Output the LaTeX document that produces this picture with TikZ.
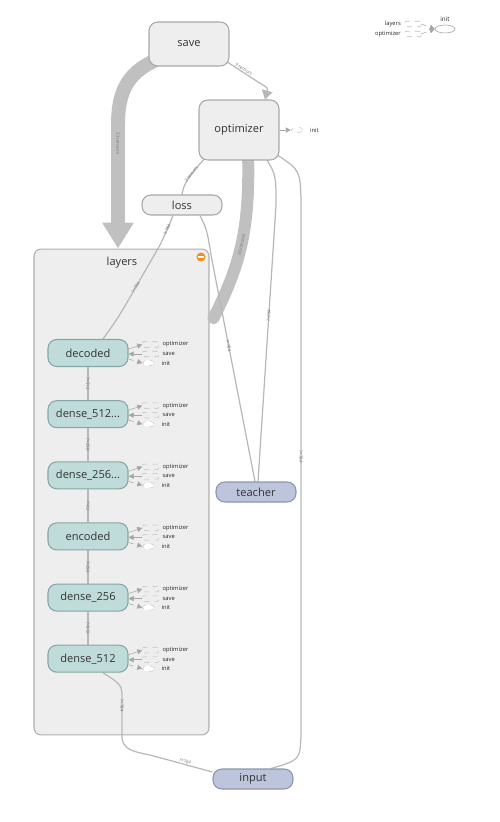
\documentclass[tikz,border=0pt]{standalone}
\usepackage{fontspec}
\setmainfont{Open Sans}
\usetikzlibrary{arrows.meta, positioning, calc, shapes.geometric, backgrounds}
\definecolor{opfill}{HTML}{EEEEEE}
\definecolor{opline}{HTML}{A8A8A8}
\definecolor{layerfill}{HTML}{C0DCDA}
\definecolor{layerline}{HTML}{85A6A4}
\definecolor{iofill}{HTML}{BCC5DC}
\definecolor{ioline}{HTML}{8D95AC}
\definecolor{clusline}{HTML}{B0B0B0}
\definecolor{edgecol}{HTML}{B8B8B8}
\definecolor{thickcol}{HTML}{C0C0C0}
\definecolor{badge}{HTML}{F28C1E}
\definecolor{txt}{HTML}{333333}
\tikzset{
  tbop/.style      = {rounded corners=5pt, draw=opline, fill=opfill, line width=0.6pt,
                      minimum width=16mm, minimum height=4mm, inner sep=1pt, text=txt,
                      font=\fontsize{6.3}{7}\selectfont},
  tblayer/.style   = {tbop, fill=layerfill, draw=layerline, minimum height=5.4mm},
  tbio/.style      = {tbop, fill=iofill, draw=ioline},
  tbcluster/.style = {rounded corners=4pt, draw=clusline, fill=opfill, line width=0.6pt},
  tbtitle/.style   = {font=\fontsize{6.3}{7}\selectfont, text=txt, inner sep=1pt},
  tbedge/.style    = {draw=edgecol, line width=0.7pt},
  tbthick/.style   = {draw=thickcol, line cap=round},
  tblbl/.style     = {font=\fontsize{2.5}{3}\selectfont, text=black!55, inner sep=0.5pt, sloped},
  tbside/.style    = {font=\fontsize{3.3}{4}\selectfont, text=black!85, inner sep=0.3pt},
  tbstub/.style    = {draw=black!25, dashed, line width=0.3pt, minimum width=3.2mm,
                      minimum height=1.1mm, inner sep=0pt, rounded corners=0.5pt},
  tbinit/.style    = {ellipse, draw=black!20, dashed, fill=white, line width=0.3pt,
                      minimum width=2.4mm, minimum height=1.1mm, inner sep=0pt},
  tbaux/.style     = {draw=black!35, line width=0.3pt, -{Triangle[length=1mm, width=1mm]}},
}
\begin{document}
\begin{tikzpicture}[x=0.02cm, y=-0.02cm]
  \useasboundingbox (0,0) rectangle (500,822);

  % cluster
  \begin{pgfonlayer}{background}
    \node[tbcluster, minimum width=35mm, minimum height=97.2mm] (layers) at (121.5,492) {};
  \end{pgfonlayer}
  \node[tbtitle] (layerstitle) at (122,263) {layers};
  \node[circle, fill=badge, minimum size=1.8mm, inner sep=0pt] (badge) at (201,257) {};
  \draw[white, line width=0.7pt] ($(badge.west)+(2,0)$) -- ($(badge.east)+(-2,0)$);

  % ops
  \node[tbop, minimum height=8.8mm] (save) at (189,44) {save};
  \node[tbop, minimum height=12mm] (optimizer) at (239,130) {optimizer};
  \node[tbop] (loss) at (182,205) {loss};
  \node[tbio] (teacher) at (256,492) {teacher};
  \node[tbio] (input) at (253,779) {input};

  % layer nodes
  \node[tblayer] (decoded) at (88,353) {decoded};
  \node[tblayer, below=6.62mm of decoded] (d512b) {dense\_512...};
  \node[tblayer, below=6.62mm of d512b] (d256b) {dense\_256...};
  \node[tblayer, below=6.62mm of d256b] (encoded) {encoded};
  \node[tblayer, below=6.62mm of encoded] (d256) {dense\_256};
  \node[tblayer, below=6.62mm of d256] (d512) {dense\_512};

  \foreach \n in {decoded, d512b, d256b, encoded, d256, d512} {
    \node[tbstub] (\n-opt) at ($(\n.east)+(22,-8.5)$) {};
    \node[tbstub] (\n-sav) at ($(\n.east)+(22,1)$) {};
    \node[tbinit] (\n-ini) at ($(\n.east)+(20,10)$) {};
    \node[tbside, right=0.6mm of \n-opt] (\n-optl) {optimizer};
    \node[tbside, right=0.6mm of \n-sav] (\n-savl) {save};
    \node[tbside, right=1.2mm of \n-ini] (\n-inil) {init};
    \draw[tbaux] ($(\n.east)+(0,-4)$) -- (\n-opt.west);
    \draw[tbaux] (\n-sav.west) -- ($(\n.east)+(0,1)$);
    \draw[tbaux, dashed] ($(\n.east)+(0,6)$) -- (\n-ini.west);
  }

  % optimizer init
  \node[tbinit] (optinit) at (297,130) {};
  \node[tbside, right=1.2mm of optinit] (optinitl) {init};
  \draw[tbaux, dashed] (optimizer.east) -- (optinit.west);

  % legend
  \node[tbinit, solid, draw=black!40, minimum width=4mm, minimum height=1.6mm] (lginit) at (445,29) {};
  \node[tbside, font=\fontsize{3.6}{4}\selectfont] (lginitl) at (445,19) {init};
  \node[tbstub] (lglayers) at (413,24) {};
  \node[tbstub] (lgopt) at (413,34) {};
  \node[tbside, left=0.6mm of lglayers] (lglayersl) {layers};
  \node[tbside, left=0.6mm of lgopt] (lgoptl) {optimizer};
  \draw[tbaux, dashed] (lglayers.east) -- (lginit.west);
  \draw[tbaux, dashed] (lgopt.east) -- (lginit.west);

  \begin{pgfonlayer}{background}
  % thick edges
  \draw[tbthick, line width=2.8mm, -{Triangle[length=5.2mm, width=6mm]}]
    ($(save.south west)+(16,-10)$) .. controls (128,70) and (118,90) .. (118,125)
    -- node[tblbl, pos=0.15] (lbsavelay) {23 tensors} ($(layers.north)+(-3.5,0)$);
  \draw[tbthick, line width=2.4mm]
    ($(optimizer.south)+(9,-10)$) .. controls (250,225) and (242,262) ..
    node[tblbl, pos=0.52] (lboptlay) {66 tensors} ($(layers.east)+(4,-174)$);

  % thin edges
  \draw[tbedge, -{Triangle[length=1.8mm, width=2.2mm]}]
    ($(save.south east)+(-3,-5)$) -- node[tblbl, above] (lbsaveopt) {9 tensors} (258,82)
    .. controls (268,88) .. ($(optimizer.north)+(26,0)$);
  \draw[tbedge] ($(optimizer.south west)+(8,-4)$) .. controls (190,175) and (184,182) ..
    node[tblbl, pos=0.4] (lboptloss) {3 tensors} (loss.north);
  \draw[tbedge] ($(optimizer.south east)+(-14,-3)$) .. controls (276,175) .. (276,205)
    -- node[tblbl, pos=0.4] (lbopttch) {?×784} ($(teacher.north)+(2,0)$);
  \draw[tbedge] ($(optimizer.south east)+(-3,-6)$) .. controls (300,170) .. (301,200)
    -- node[tblbl, pos=0.48] (lboptin) {?×784} (301,735)
    .. controls (300,760) .. ($(input.north)+(18,0)$);
  \draw[tbedge] ($(loss.south)+(18,0)$) .. controls (207,230) .. (211,255)
    -- node[tblbl, pos=0.4] (lbosstch) {?×784} ($(teacher.north)+(-1,0)$);
  \draw[tbedge] ($(loss.south)+(-9,0)$) .. controls (168,228) ..
    node[tblbl, pos=0.55] (lblossdec) {?×784} (160,245)
    -- node[tblbl, pos=0.9] (lblossdec2) {?×784} (133,292)
    .. controls (118,318) .. ($(decoded.north)+(15,0)$);

  \draw[tbedge] (decoded) -- node[tblbl] (lbdec) {?×512} (d512b);
  \draw[tbedge] (d512b) -- node[tblbl] (lbd512b) {?×256} (d256b);
  \draw[tbedge] (d256b) -- node[tblbl] (lbd256b) {?×32} (encoded);
  \draw[tbedge] (encoded) -- node[tblbl] (lbenc) {?×256} (d256);
  \draw[tbedge] (d256) -- node[tblbl] (lbd256) {?×512} (d512);

  \draw[tbedge] ($(d512.south)+(15,0)$) .. controls (122,685) .. (122,700)
    -- node[tblbl, pos=0.15] (lbd512in) {?×784} (122,738)
    .. controls (123,750) and (135,752) .. (150,755)
    -- node[tblbl, pos=0.55, above] (lbinput) {?×784} ($(input.west)+(0,-7)$);
  \end{pgfonlayer}
\end{tikzpicture}
\end{document}
